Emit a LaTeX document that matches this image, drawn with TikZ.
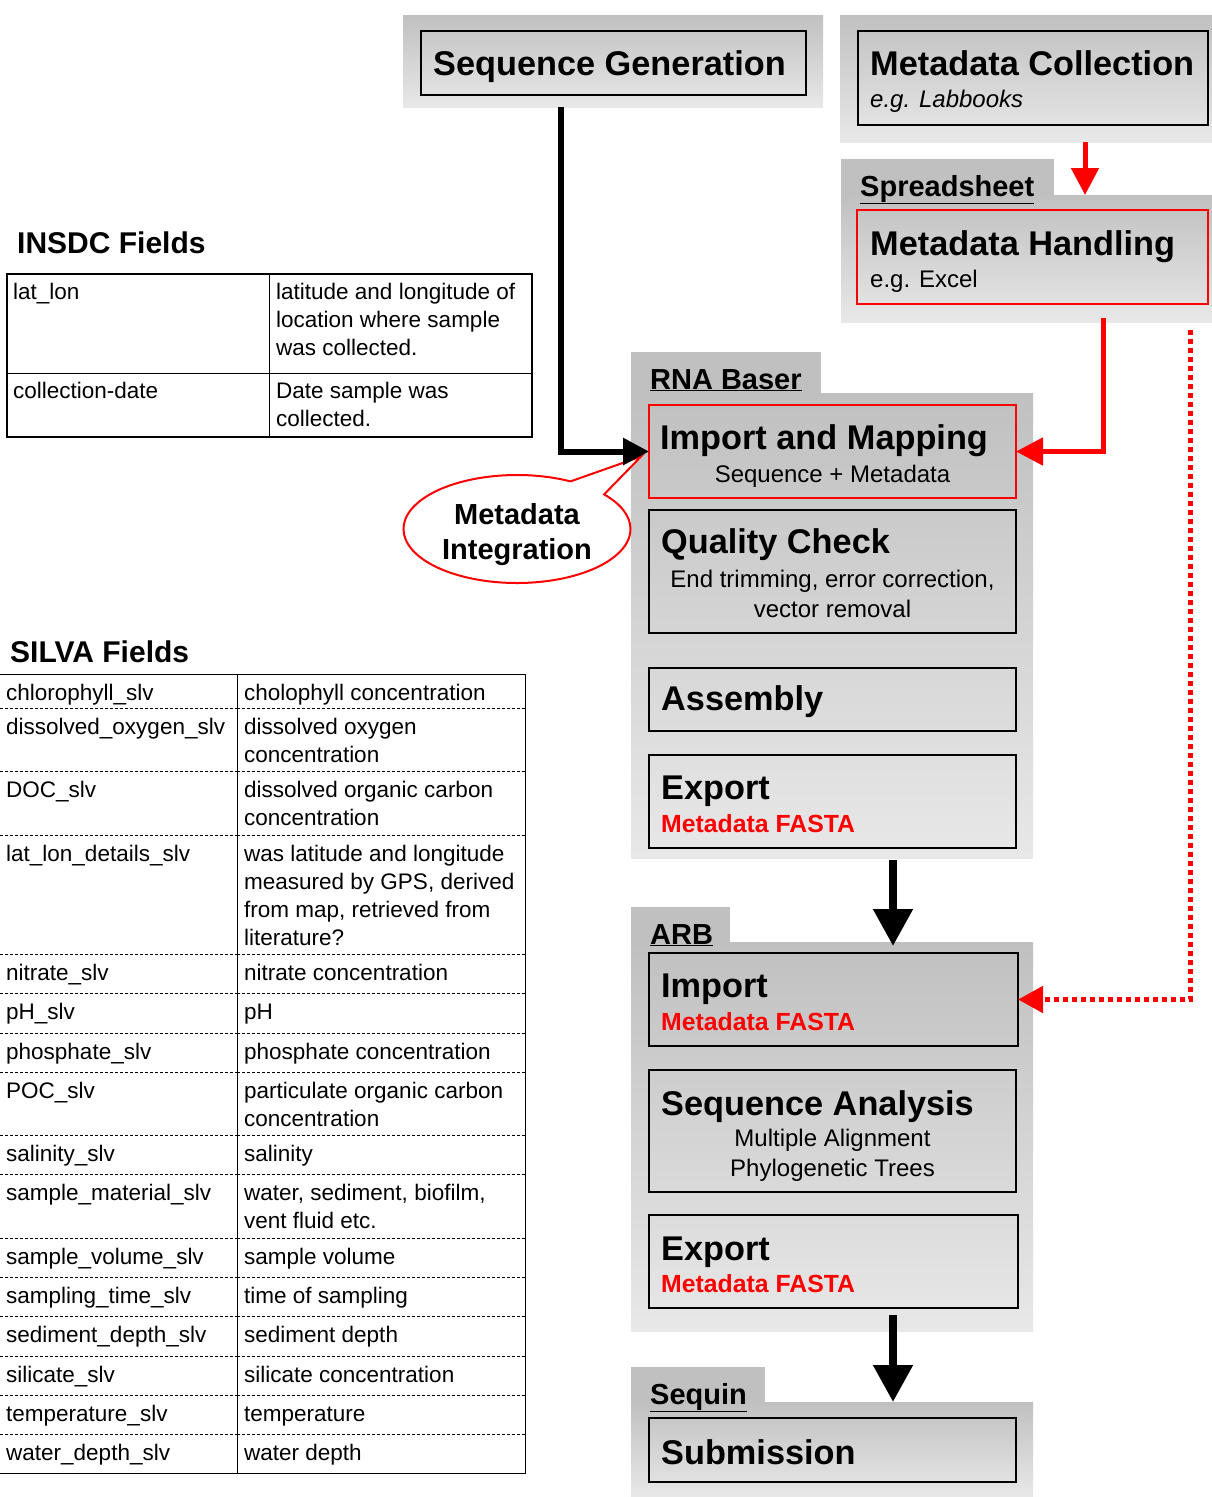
\documentclass[tikz,border=0pt]{standalone}
\usepackage{fontspec}
\setmainfont{Liberation Sans}
\usetikzlibrary{arrows.meta,shapes.callouts,positioning}

\definecolor{paneltop}{HTML}{C0C0C0}
\definecolor{panelbot}{HTML}{E8E8E8}

\begin{document}
\begin{tikzpicture}[
                    x=1pt, y=-1pt,
                    toolpanel/.style={
                        rectangle,
                        anchor=north west,
                        inner sep=0pt, outer sep=0pt,
                        top color=paneltop,
                        bottom color=panelbot
                    },
                    tooltab/.style={
                        rectangle,
                        anchor=north west,
                        inner sep=0pt, outer sep=0pt,
                        fill=paneltop
                    },
                    stepbox/.style={
                        rectangle,
                        draw=black,
                        line width=2pt,
                        anchor=north west,
                        inner sep=0pt, outer sep=0pt,
                        minimum width=367pt
                    },
                    redbox/.style={stepbox, draw=red},
                    heading/.style={anchor=base west, inner sep=0pt, font=\fontsize{34.3}{40}\selectfont\bfseries},
                    toollabel/.style={anchor=base west, inner sep=0pt, font=\fontsize{29}{34}\selectfont\bfseries},
                    detail/.style={anchor=base, inner sep=0pt, align=center, font=\fontsize{24}{29.5}\selectfont},
                    leftdetail/.style={anchor=base west, inner sep=0pt, font=\fontsize{24}{29}\selectfont},
                    fasta/.style={leftdetail, text=red, font=\fontsize{24.8}{29}\selectfont\bfseries},
                    tabletitle/.style={anchor=base west, inner sep=0pt, font=\fontsize{30}{36}\selectfont\bfseries},
                    cell/.style={anchor=base west, inner sep=0pt, align=left, font=\fontsize{22.5}{28}\selectfont},
                    rowrule/.style={line width=1pt, dash pattern=on 3pt off 2pt},
                    flow/.style={line width=8pt, -{Triangle[length=37pt,width=38pt]}},
                    feed/.style={line width=6pt, -{Triangle[length=26pt,width=26pt]}},
                    redfeed/.style={red, line width=5pt, -{Triangle[length=27pt,width=27pt]}},
                    reddots/.style={red, line width=5pt, dash pattern=on 5pt off 4pt, -{Triangle[length=25pt,width=26pt]}}
                ]
                \useasboundingbox (0,0) rectangle (1212,1497);

                \node (SGP) [toolpanel, minimum width=420pt, minimum height=92pt] at (403,15) {};
                \node (MCP) [toolpanel, minimum width=372pt, minimum height=127pt] at (840,15) {};
                \node (SST) [tooltab, minimum width=213pt, minimum height=36pt] at (841,159) {};
                \node (SSP) [toolpanel, minimum width=371pt, minimum height=127pt] at (841,195) {};
                \node (RBT) [tooltab, minimum width=190pt, minimum height=41pt] at (631,352) {};
                \node (RBP) [toolpanel, minimum width=402pt, minimum height=465pt] at (631,393) {};
                \node (ARBT) [tooltab, minimum width=99pt, minimum height=35pt] at (631,907) {};
                \node (ARBP) [toolpanel, minimum width=402pt, minimum height=389pt] at (631,942) {};
                \node (SQT) [tooltab, minimum width=134pt, minimum height=35pt] at (631,1367) {};
                \node (SQP) [toolpanel, minimum width=402pt, minimum height=95pt] at (631,1402) {};

                \node (SSl) [toollabel] at ([shift={(19,37)}]SST.north west) {\underline{Spreadsheet}};
                \node (RBl) [toollabel] at ([shift={(19,37)}]RBT.north west) {\underline{RNA Baser}};
                \node (ARBl) [toollabel] at ([shift={(19,37)}]ARBT.north west) {\underline{ARB}};
                \node (SQl) [toollabel] at ([shift={(19,37)}]SQT.north west) {\underline{Sequin}};

                \node (SG) [stepbox, minimum width=385pt, minimum height=64pt] at (421,31) {};
                \node (MC) [stepbox, minimum width=350pt, minimum height=94pt] at (858,31) {};
                \node (MH) [redbox, minimum width=351pt, minimum height=94pt] at (857,210) {};
                \node (IM) [redbox, minimum height=93pt] at (649,405) {};
                \node (QC) [stepbox, minimum height=123pt] at (649,510) {};
                \node (AS) [stepbox, minimum height=63pt] at (649,668) {};
                \node (EXR) [stepbox, minimum height=93pt] at (649,755) {};
                \node (IA) [stepbox, minimum width=369pt, minimum height=93pt] at (649,953) {};
                \node (SA) [stepbox, minimum height=122pt] at (649,1070) {};
                \node (EXA) [stepbox, minimum width=369pt, minimum height=93pt] at (649,1215) {};
                \node (SU) [stepbox, minimum height=64pt] at (649,1418) {};

                \node (SGh) [heading] at ([shift={(12,44)}]SG.north west) {Sequence Generation};
                \node (MCh) [heading] at ([shift={(12,44)}]MC.north west) {Metadata Collection};
                \node (MCd) [leftdetail, font=\fontsize{24}{29}\selectfont\itshape] at ([shift={(12,76)}]MC.north west) {e.g. Labbooks};
                \node (MHh) [heading] at ([shift={(13,45)}]MH.north west) {Metadata Handling};
                \node (MHd) [leftdetail] at ([shift={(13,77)}]MH.north west) {e.g. Excel};
                \node (IMh) [heading] at ([shift={(11,44)}]IM.north west) {Import and Mapping};
                \node (IMd) [detail] at ([shift={(0,77)}]IM.north) {Sequence + Metadata};
                \node (QCh) [heading] at ([shift={(12,43)}]QC.north west) {Quality Check};
                \node (QCd) [detail] at ([shift={(0,107)}]QC.north) {End trimming, error correction,\\vector removal};
                \node (ASh) [heading] at ([shift={(12,42)}]AS.north west) {Assembly};
                \node (EXRh) [heading] at ([shift={(12,44)}]EXR.north west) {Export};
                \node (EXRd) [fasta] at ([shift={(12,77)}]EXR.north west) {Metadata FASTA};
                \node (IAh) [heading] at ([shift={(12,44)}]IA.north west) {Import};
                \node (IAd) [fasta] at ([shift={(12,77)}]IA.north west) {Metadata FASTA};
                \node (SAh) [heading] at ([shift={(12,45)}]SA.north west) {Sequence Analysis};
                \node (SAd) [detail] at ([shift={(0,106)}]SA.north) {Multiple Alignment\\Phylogenetic Trees};
                \node (EXAh) [heading] at ([shift={(12,45)}]EXA.north west) {Export};
                \node (EXAd) [fasta] at ([shift={(12,77)}]EXA.north west) {Metadata FASTA};
                \node (SUh) [heading] at ([shift={(12,46)}]SU.north west) {Submission};

                \node (INSDC) [tabletitle] at (17,253) {INSDC Fields};
                \draw [line width=2pt] (7,274) rectangle (532,437);
                \draw [line width=1pt] (269,274) -- (269,437);
                \draw [line width=1pt] (7,373) -- (532,373);
                \node (ik1) [cell] at (13,299) {lat\_lon};
                \node (iv1) [cell] at (276,355) {latitude and longitude of\\location where sample\\was collected.};
                \node (ik2) [cell] at (13,398) {collection-date};
                \node (iv2) [cell] at (276,426) {Date sample was\\collected.};

                \node (SILVA) [tabletitle] at (10,662) {SILVA Fields};
                \draw [line width=1pt] (0,674) -- (525,674) -- (525,1473) -- (0,1473);
                \draw [line width=1pt] (237,674) -- (237,1473);
                \foreach \ry in {708,771,835,954,993,1033,1072,1135,1174,1238,1277,1316,1356,1395,1434}
                    \draw [rowrule] (0,\ry) -- (237,\ry) (237,\ry) -- (525,\ry);
                \foreach \rtop/\nl/\key/\desc [count=\i] in {
                        674/1/chlorophyll\_slv/cholophyll concentration,
                        708/2/dissolved\_oxygen\_slv/{dissolved oxygen\\concentration},
                        771/2/DOC\_slv/{dissolved organic carbon\\concentration},
                        835/4/lat\_lon\_details\_slv/{was latitude and longitude\\measured by GPS, derived\\from map, retrieved from\\literature?},
                        954/1/nitrate\_slv/nitrate concentration,
                        993/1/pH\_slv/pH,
                        1033/1/phosphate\_slv/phosphate concentration,
                        1072/2/POC\_slv/{particulate organic carbon\\concentration},
                        1135/1/salinity\_slv/salinity,
                        1174/2/sample\_material\_slv/{water, sediment, biofilm,\\vent fluid etc.},
                        1238/1/sample\_volume\_slv/sample volume,
                        1277/1/sampling\_time\_slv/time of sampling,
                        1316/1/sediment\_depth\_slv/sediment depth,
                        1356/1/silicate\_slv/silicate concentration,
                        1395/1/temperature\_slv/temperature,
                        1434/1/water\_depth\_slv/water depth}
                {
                    \node (sk\i) [cell] at (6,\rtop+26) {\key};
                    \node (sv\i) [cell] at (244,\rtop+26+28*\nl-28) {\desc};
                }

                \node (MI) [ellipse callout, draw=red, line width=2pt, fill=white,
                            minimum width=227pt, minimum height=108pt, inner sep=0pt,
                            callout absolute pointer={([shift={(-8,5)}]IM.west)},
                            callout pointer arc=22] at (517,529) {};
                \node (MIt) [anchor=base, inner sep=0pt, align=center, font=\fontsize{29}{35}\selectfont\bfseries]
                            at ([shift={(0,30)}]MI.center) {Metadata\\Integration};

                \coordinate (sgdrop) at (561,107);
                \coordinate (mcdrop) at (1085,142);
                \coordinate (mhdrop) at (1103,318);
                \coordinate (mhdots) at (1190,330);
                \coordinate (rbdrop) at (893,860);
                \coordinate (arbdrop) at (893,1315);

                \draw [feed] (sgdrop) |- (IM.west);
                \draw [redfeed] (mcdrop) -- (mcdrop |- SSP.north);
                \draw [redfeed] (mhdrop) |- (IM.east);
                \draw [reddots] (mhdots) |- (IA.east);
                \draw [flow] (rbdrop) -- ([shift={(0,4)}]rbdrop |- ARBP.north);
                \draw [flow] (arbdrop) -- (arbdrop |- SQP.north);
            \end{tikzpicture}
\end{document}
